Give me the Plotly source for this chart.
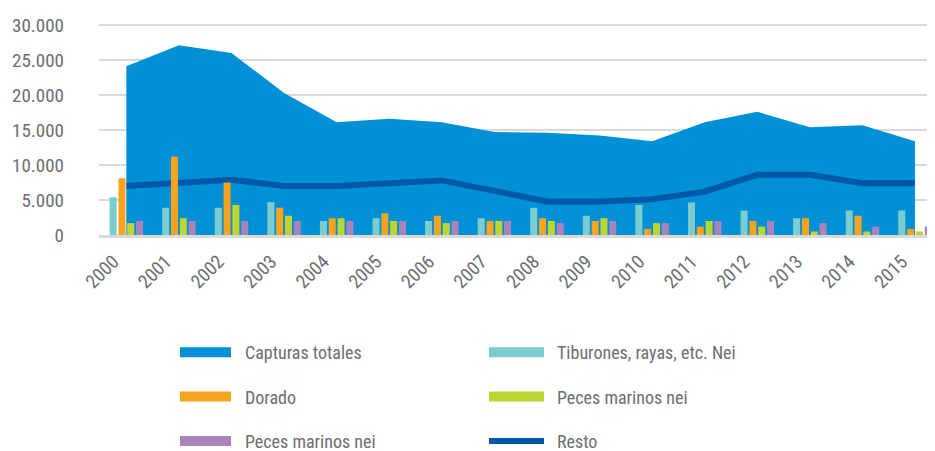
import plotly.graph_objects as go

years = [str(y) for y in range(2000, 2016)]
capturas_totales = [24100, 27100, 26000, 20300, 16100, 16600, 16100, 14700, 14600, 14200,
                    13400, 16100, 17600, 15400, 15700, 13400]
resto = [7000, 7500, 7900, 7000, 7000, 7400, 7800, 6300, 4800, 4800,
         5100, 6200, 8600, 8600, 7400, 7400]
tiburones = [5400, 3900, 3900, 4700, 2000, 2400, 2000, 2400, 3900, 2750,
             4300, 4650, 3500, 2400, 3500, 3500]
dorado = [8100, 11200, 7500, 3900, 2400, 3100, 2750, 2000, 2400, 2000,
          850, 1200, 2000, 2400, 2750, 850]
peces_verde = [1700, 2400, 4300, 2750, 2400, 2000, 1700, 2000, 2000, 2400,
               1700, 2000, 1200, 500, 500, 500]
peces_morado = [2000, 2000, 2000, 2000, 2000, 2000, 2000, 2000, 1700, 2000,
                1700, 2000, 2000, 1700, 1200, 1200]
y_ticks = [0, 5000, 10000, 15000, 20000, 25000, 30000]
y_tick_labels = ["0", "5.000", "10.000", "15.000", "20.000", "25.000", "30.000"]

C_AREA = "#0090d5"
C_LINE = "#0058a8"
C_CYAN = "#7bcccf"
C_ORANGE = "#f6a41f"
C_GREEN = "#bcd531"
C_PURPLE = "#a884bb"
TXT = "#6d6e71"
FONT = "Roboto Condensed, DejaVu Sans Condensed, sans-serif"

W, H = 927, 443  # page body adds an 8px offset

fig = go.Figure()

fig.add_trace(go.Scatter(x=years, y=capturas_totales, mode="none", fill="tozeroy",
                         fillcolor=C_AREA, showlegend=False))
fig.add_trace(go.Scatter(x=years, y=resto, mode="lines", name="Resto",
                         line=dict(color=C_LINE, width=6), showlegend=False))

for name, vals, col in [("Tiburones, rayas, etc. Nei", tiburones, C_CYAN),
                        ("Dorado", dorado, C_ORANGE),
                        ("Peces marinos nei", peces_verde, C_GREEN),
                        ("Peces marinos nei", peces_morado, C_PURPLE)]:
    fig.add_trace(go.Bar(x=years, y=vals, name=name, marker=dict(color=col, line=dict(width=0)),
                         showlegend=False, xaxis="x2", yaxis="y2"))

# legend entries (single point line traces draw nothing on the plot)
leg = [("Capturas totales", C_AREA, 12, "legend", "g1", 1),
       ("Dorado", C_ORANGE, 12, "legend", "g2", 2),
       ("Peces marinos nei", C_PURPLE, 12, "legend", "g3", 3),
       ("Tiburones, rayas, etc. Nei", C_CYAN, 12, "legend2", "g4", 1),
       ("Peces marinos nei", C_GREEN, 12, "legend2", "g5", 2),
       ("Resto", C_LINE, 6, "legend2", "g6", 3)]
for name, col, w, lg, grp, rank in leg:
    dash = "51px,300px" if lg == "legend" else "55px,300px"
    fig.add_trace(go.Scatter(x=[years[0]], y=[0], mode="lines", name=name,
                             line=dict(color=col, width=w, dash=dash), legend=lg,
                             legendgroup=grp, legendrank=rank))

legend_common = dict(font=dict(family=FONT, size=18, color=TXT), bgcolor="rgba(0,0,0,0)",
                     orientation="v", tracegroupgap=18,
                     xref="paper", yref="container", yanchor="top", xanchor="left",
                     traceorder="grouped")
XR = [-0.52, 15.38]
YR = [0, 30150]
fig.update_layout(
    width=W, height=H,
    margin=dict(l=91, r=0, t=16, b=216),
    paper_bgcolor="white", plot_bgcolor="white",
    barmode="group", bargap=0.33, bargroupgap=0.2,
    font=dict(family=FONT, color=TXT),
    legend=dict(x=(167 - 91) / 836, y=1 - 326 / H, itemwidth=60, **legend_common),
    legend2=dict(x=(476 - 91) / 836, y=1 - 326 / H, itemwidth=63, **legend_common),
    xaxis=dict(type="category", range=XR, showgrid=False, automargin=False,
               tickangle=-45, tickfont=dict(family=FONT, size=19, color=TXT),
               ticklabelshift=-13, ticklabelstandoff=5,
               showline=True, linecolor="#d9d9d9", linewidth=3, ticks=""),
    yaxis=dict(range=YR, tickvals=y_ticks, ticktext=y_tick_labels, automargin=False,
               showgrid=True, gridcolor="#d9d9d9", gridwidth=2, zeroline=False,
               tickfont=dict(family=FONT, size=19, color=TXT), ticklabelstandoff=34),
    xaxis2=dict(type="category", range=XR, overlaying="x", visible=False, categoryarray=years,
                categoryorder="array"),
    yaxis2=dict(range=YR, overlaying="y", visible=False),
)

fig.write_html("out.html")
